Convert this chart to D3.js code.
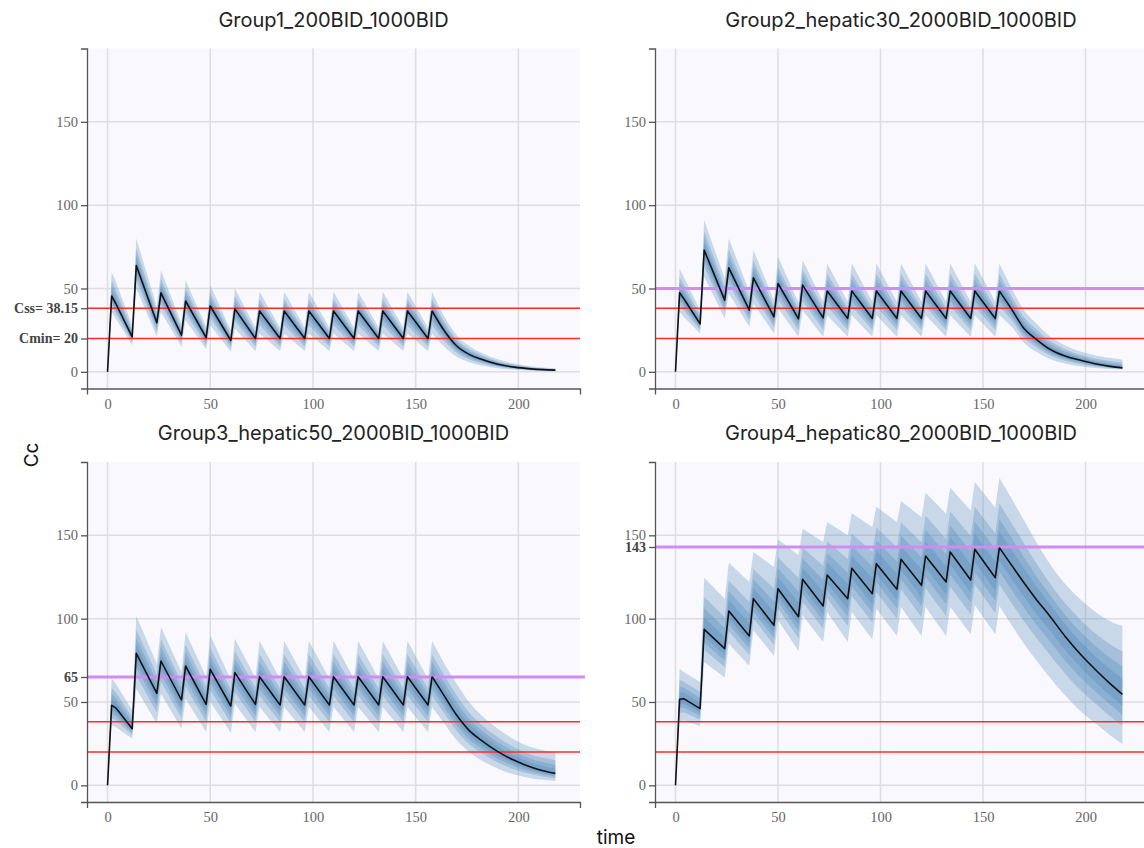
<!DOCTYPE html>
<html>
<head>
<meta charset="utf-8">
<script src="https://cdn.jsdelivr.net/npm/d3@7"></script>
<style>
	body { margin: 0; background: #fff; }
	.tick text { font-family: "Liberation Serif", "DejaVu Serif", serif; font-size: 14.5px; fill: #666; }
	.domain, .tick line { stroke: #555; stroke-width: 1.3; }
	.title { font-family: Inter, Roboto, "Noto Sans", sans-serif; font-size: 20px; fill: #222; }
	.axlabel { font-family: Inter, Roboto, "Noto Sans", sans-serif; font-size: 19px; fill: #111; }
</style>
</head>
<body>
<div id="chart-area"></div>
<script>

// Sampling times (h), shared by every group
var time = [0, 2, 4, 12, 14, 24, 26, 36, 38, 48, 50, 60, 62, 72, 74, 84, 86, 96, 98, 108, 110,
	120, 122, 132, 134, 144, 146, 156, 158, 164, 170, 176, 182, 190, 198, 206, 212, 218];
var lastDose = 158;   // after this the curves are smooth elimination

// Group1_200BID_1000BID : median, 5th and 95th percentile
var g1Median = [0, 45.5, 41, 21, 63.8, 29.5, 47.4, 22, 42.5, 20.5, 39.5, 18.8, 37.8, 20, 36.5, 20, 36.5, 20, 36.5, 20, 36.5,
	20, 36.5, 20, 36.5, 20, 36.5, 20, 36.5, 24.5, 15.5, 10.5, 7.5, 4.5, 2.8, 1.8, 1.3, 1.0];
var g1Lo = [0, 36, 32, 16, 50, 21, 36, 15, 31, 13.5, 28, 12, 26, 12.5, 23, 12.5, 23, 12.5, 23, 12.5, 23,
	12.5, 23, 12.5, 23, 12.5, 23, 12.5, 23, 15, 9, 5.8, 3.8, 2.1, 1.2, 0.7, 0.5, 0.35];
var g1Hi = [0, 60, 54, 28, 80, 39, 61, 29, 55, 27, 52, 25, 50, 26.5, 48, 26.5, 48, 26.5, 48, 26.5, 48,
	26.5, 48, 26.5, 48, 26.5, 48, 26.5, 48, 33, 22, 15.5, 11.5, 7.5, 5, 3.4, 2.6, 2.1];

// Group2_hepatic30_2000BID_1000BID
var g2Median = [0, 47.4, 44, 28.8, 73, 43, 62.4, 37, 56.4, 33, 53, 31.8, 52, 32.4, 48.5, 32, 48.5, 32, 48.5, 32, 48.5,
	32, 48.5, 32, 48.5, 32, 48.5, 32, 48.5, 37.5, 26, 19.5, 14, 9.5, 6.8, 4.5, 3.3, 2.4];
var g2Lo = [0, 36, 33, 23, 57, 32, 47, 27, 41, 23, 38, 21, 37, 21, 34, 21, 34, 21, 34, 21, 34,
	21, 34, 21, 34, 21, 34, 21, 34, 27, 17.5, 12, 8, 5, 3.2, 2.1, 1.7, 1.4];
var g2Hi = [0, 62, 57, 37, 91, 56, 80, 48, 73, 43, 69, 41.5, 67, 42, 65, 42, 65, 42, 65, 42, 65,
	42, 65, 42, 65, 42, 65, 42, 65, 50, 37, 29, 22, 16, 12, 9.5, 8.3, 7.4];

// Group3_hepatic50_2000BID_1000BID
var g3Median = [0, 48, 46.5, 34, 79.2, 55.2, 74.6, 51.2, 71.6, 48.6, 69.6, 47.6, 67.6, 48.6, 65.2, 48.2, 65.2, 48.2, 65.2, 48.2, 65.2,
	48.2, 65.2, 48.2, 65.2, 48.2, 65.2, 48.2, 65.2, 53.5, 42, 33, 27, 20.2, 15, 11, 8.8, 7.2];
var g3Lo = [0, 36, 35, 28, 58, 37, 55, 34, 52, 32, 50, 31.5, 49, 32, 47, 32, 47, 32, 47, 32, 47,
	32, 47, 32, 47, 32, 47, 32, 47, 37, 27, 20, 15, 10, 6.5, 4.3, 3.3, 2.6];
var g3Hi = [0, 64.6, 61, 45, 101.6, 73, 95, 68, 92, 65, 90, 63.5, 88, 64.5, 86.6, 64, 86.6, 64, 86.6, 64, 86.6,
	64, 86.6, 64, 86.6, 64, 86.6, 64, 86.6, 73, 61, 50, 42, 34, 27.5, 23, 21, 19.6];

// Group4_hepatic80_2000BID_1000BID
var g4Median = [0, 51.6, 52, 46, 93.6, 82, 104.6, 89.6, 112, 96, 118, 101.2, 123.6, 107.6, 126.2, 112, 130.2, 115, 133, 117.6, 135.6,
	120, 137.6, 122, 140, 123.2, 141.6, 124.6, 142.6, 132, 121.5, 111.5, 102.5, 89.5, 78, 68, 61, 54.6];
var g4Lo = [0, 38, 39, 35.6, 74, 64.6, 85, 71.6, 93, 77.6, 99, 80.6, 102, 86, 104, 86, 104, 87.6, 106, 89.6, 107,
	89.6, 107, 89.6, 107, 90.6, 108, 90.6, 107.6, 96, 85, 75, 65.6, 54, 44, 36, 30, 24.6];
var g4Hi = [0, 70, 68, 62, 124.6, 112, 133.6, 122, 140, 131, 147.6, 138, 154, 146, 158, 150, 163.2, 155, 167.2, 158, 170.6,
	161, 175.6, 163, 178.6, 165, 182, 166.6, 184.6, 172, 159, 146, 134, 121, 111, 103, 98.5, 95.6];

// Titles, reference levels and tick values
var titles = ["Group1_200BID_1000BID", "Group2_hepatic30_2000BID_1000BID",
	"Group3_hepatic50_2000BID_1000BID", "Group4_hepatic80_2000BID_1000BID"];
var targetLevels = [null, 50, 65, 143];      // purple line per group
var css = 38.15, cmin = 20;                    // red lines
var xTicks = [0, 50, 100, 150, 200];
var yTicks = [0, 50, 100, 150];

// quantile bands drawn as fractions of the 5-95 spread
var bandFractions = [1, 0.63, 0.41, 0.23];

var groups = [
	{ median: g1Median, lo: g1Lo, hi: g1Hi },
	{ median: g2Median, lo: g2Lo, hi: g2Hi },
	{ median: g3Median, lo: g3Lo, hi: g3Hi },
	{ median: g4Median, lo: g4Lo, hi: g4Hi }
];

// Panel boxes on the page
var cols = [[87, 580], [655, 1147]];
var rows = [[388.5, 48.5], [802, 462]];

// dosing part drawn straight, elimination tail drawn smooth
var split = time.indexOf(lastDose);
var pieces = [
	{ from: 0, to: split + 1, curve: d3.curveLinear },
	{ from: split, to: time.length, curve: d3.curveMonotoneX }
];

var svg = d3.select("#chart-area")
	.append("svg")
		.attr("width", 1144)
		.attr("height", 848);

groups.forEach(function(grp, k) {
	var xr = cols[k % 2], yr = rows[Math.floor(k / 2)];

	var x = d3.scaleLinear().domain([-10, 230]).range(xr);
	var y = d3.scaleLinear().domain([-10, 194]).range(yr);

	var g = svg.append("g");

	// plot background
	g.append("rect")
		.attr("x", xr[0]).attr("y", yr[1])
		.attr("width", xr[1] - xr[0]).attr("height", yr[0] - yr[1])
		.attr("fill", "#f9f9fd");

	// grid
	g.selectAll(".vgrid").data(xTicks).enter().append("line")
		.attr("x1", function(d) { return x(d); }).attr("x2", function(d) { return x(d); })
		.attr("y1", yr[1]).attr("y2", yr[0])
		.attr("stroke", "#dedede").attr("stroke-width", 1.5);
	g.selectAll(".hgrid").data(yTicks).enter().append("line")
		.attr("y1", function(d) { return y(d); }).attr("y2", function(d) { return y(d); })
		.attr("x1", xr[0]).attr("x2", xr[1])
		.attr("stroke", "#dedede").attr("stroke-width", 1.5);

	// point index list, one per sample
	var idx = d3.range(time.length);

	// percentile bands, outer first
	bandFractions.forEach(function(f) {
		var d = "";
		pieces.forEach(function(p) {
			var area = d3.area()
				.curve(p.curve)
				.x(function(i) { return x(time[i]); })
				.y0(function(i) { return y(grp.median[i] - f * (grp.median[i] - grp.lo[i])); })
				.y1(function(i) { return y(grp.median[i] + f * (grp.hi[i] - grp.median[i])); });
			d += area(idx.slice(p.from, p.to));
		});
		g.append("path")
			.attr("d", d)
			.attr("fill", "steelblue")
			.attr("fill-opacity", 0.27);
	});

	// reference lines
	[css, cmin].forEach(function(v) {
		g.append("line")
			.attr("x1", xr[0]).attr("x2", xr[1])
			.attr("y1", y(v)).attr("y2", y(v))
			.attr("stroke", "#ff2a2a").attr("stroke-width", 1.5);
	});
	if (targetLevels[k] !== null) {
		g.append("line")
			.attr("x1", xr[0]).attr("x2", xr[1] + 5)
			.attr("y1", y(targetLevels[k])).attr("y2", y(targetLevels[k]))
			.attr("stroke", "#d48af5").attr("stroke-width", 3);
	}

	// median line
	pieces.forEach(function(p) {
		var line = d3.line()
			.curve(p.curve)
			.x(function(i) { return x(time[i]); })
			.y(function(i) { return y(grp.median[i]); });
		g.append("path")
			.attr("d", line(idx.slice(p.from, p.to)))
			.attr("fill", "none")
			.attr("stroke", "#111")
			.attr("stroke-width", 1.6)
			.attr("stroke-linejoin", "round");
	});

	// axes
	var extra = [];
	if (k === 0) extra = [css, cmin];
	if (k >= 2) extra = [targetLevels[k]];
	var yAxis = d3.axisLeft(y)
		.tickValues(yTicks.concat(extra))
		.tickFormat(function(d) {
			if (k === 0 && d === css) return "Css= " + css;
			if (k === 0 && d === cmin) return "Cmin= " + cmin;
			return d;
		});
	var yg = g.append("g")
		.attr("transform", "translate(" + xr[0] + ",0)")
		.call(yAxis);
	yg.selectAll(".tick text")
		.filter(function(d) { return extra.indexOf(d) >= 0; })
		.attr("font-weight", "bold")
		.style("font-size", "14px")
		.style("fill", "#444");

	var xAxis = d3.axisBottom(x)
		.tickValues(xTicks)
		.tickSizeInner(0)
		.tickSizeOuter(6)
		.tickPadding(10);
	g.append("g")
		.attr("transform", "translate(0," + yr[0] + ")")
		.call(xAxis);

	// title
	g.append("text")
		.attr("class", "title")
		.attr("x", (xr[0] + xr[1]) / 2)
		.attr("y", yr[1] - 22)
		.attr("text-anchor", "middle")
		.text(titles[k]);
});

// Shared axis labels
svg.append("text")
	.attr("class", "axlabel")
	.attr("transform", "translate(38,455) rotate(-90)")
	.attr("text-anchor", "middle")
	.text("Cc");

svg.append("text")
	.attr("class", "axlabel")
	.attr("x", 616)
	.attr("y", 844)
	.attr("text-anchor", "middle")
	.text("time");

</script>
</body>
</html>
